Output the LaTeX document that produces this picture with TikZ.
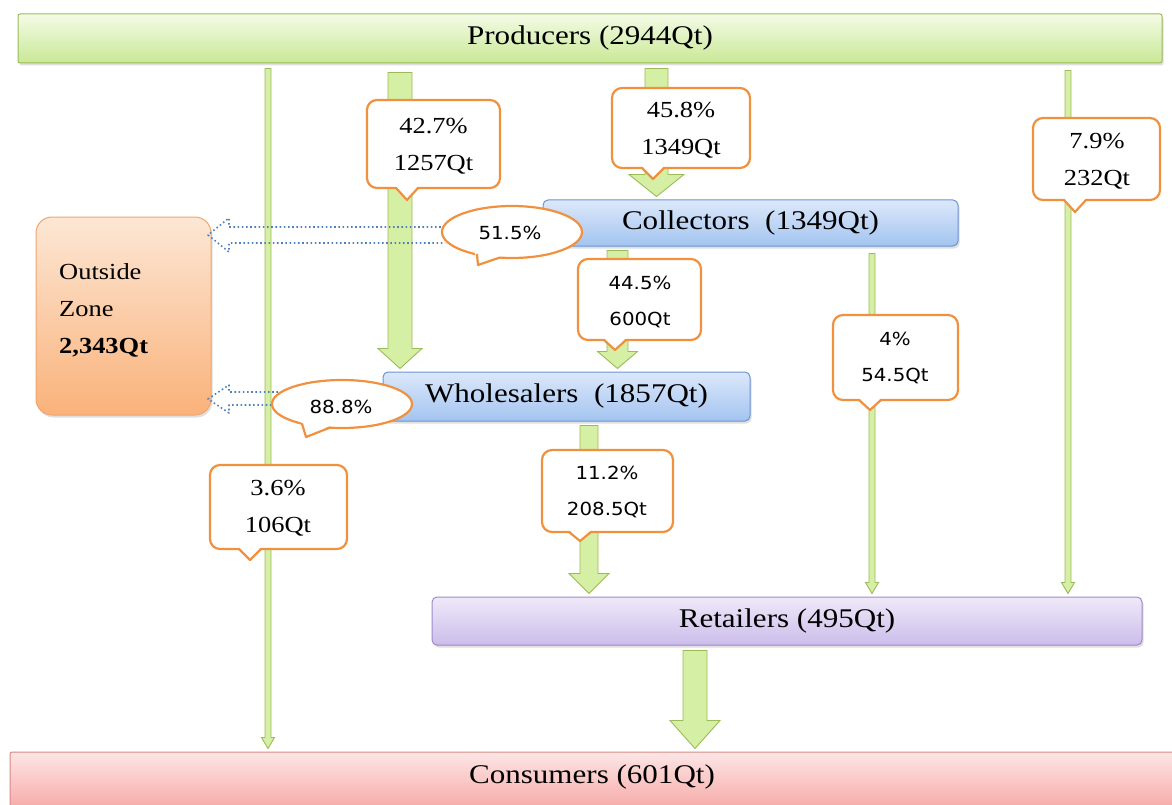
\documentclass[tikz,border=0pt]{standalone}
\usepackage{fontspec}
\setmainfont{Liberation Serif}[FakeStretch=1.15]
\newfontfamily\sansf{DejaVu Sans}[FakeStretch=1.1]
\usetikzlibrary{calc,shadows}
\definecolor{gborder}{HTML}{9BBB59}
\definecolor{gfill}{HTML}{D5EFA5}
\definecolor{oline}{HTML}{F0913F}
\definecolor{dblue}{HTML}{4F81BD}
\definecolor{prodtop}{HTML}{F4FBE6}
\definecolor{prodbot}{HTML}{C9E896}
\definecolor{colltop}{HTML}{DCE8FA}
\definecolor{collbot}{HTML}{A3C4F0}
\definecolor{collline}{HTML}{6A95D3}
\definecolor{rettop}{HTML}{EFE9F9}
\definecolor{retbot}{HTML}{CBBDEA}
\definecolor{retline}{HTML}{9F8AC9}
\definecolor{constop}{HTML}{FDE6E6}
\definecolor{consbot}{HTML}{F6A9A6}
\definecolor{consline}{HTML}{D98B88}
\definecolor{outtop}{HTML}{FCE7D5}
\definecolor{outbot}{HTML}{FAB27A}
\definecolor{outline}{HTML}{F2A56B}
\newcommand\cbox[6]{%
  \draw[callst] (#1,#2) rectangle (#3,#4);
  \fill[white] (#5-11,#4-2) -- (#5+11,#4-2) -- (#5,#6) -- cycle;
  \draw[calledge] (#5-11,#4) -- (#5,#6) -- (#5+11,#4);
}
\begin{document}
\begin{tikzpicture}[x=1pt,y=-1pt,
  box/.style={draw, line width=1pt, rounded corners=5pt, inner sep=0pt,
    font=\fontsize{27}{30}\selectfont,
    drop shadow={opacity=0.25,shadow xshift=1.5pt,shadow yshift=-2.5pt}},
  bigtxt/.style={inner sep=0pt, font=\fontsize{27}{30}\selectfont},
  garrow/.style={draw=gborder, fill=gfill, line width=0.9pt, line join=miter},
  blk/.style n args={4}{to path={let \p1=(\tikztostart), \p2=(\tikztotarget) in
    (\x1-#1/2,\y1-#4) -- (\x1-#1/2,\y2+3pt+#3) -- (\x1-#2/2,\y2+3pt+#3) -- (\x1,\y2+3pt)
    -- (\x1+#2/2,\y2+3pt+#3) -- (\x1+#1/2,\y2+3pt+#3) -- (\x1+#1/2,\y1-#4) -- cycle}},
  callst/.style={draw=oline, fill=white, line width=2.2pt, rounded corners=10pt},
  calledge/.style={draw=oline, line width=2.2pt, line join=round, line cap=round},
  serifc/.style={inner sep=0pt, align=center, font=\fontsize{23}{37}\selectfont},
  sansc/.style={inner sep=0pt, align=center, font=\sansf\fontsize{18}{36}\selectfont},
  dotarr/.style={draw=dblue, line width=1.6pt, dash pattern=on 1.6pt off 2.6pt, line join=round}
]
\useasboundingbox (0,0) rectangle (1172,805);

% boxes
\node[box, rounded corners=2pt, draw=gborder, top color=prodtop, bottom color=prodbot,
  minimum width=1144pt, minimum height=49pt] (prod) at (590,38.5) {Producers (2944Qt)};
\node[box, draw=collline, top color=colltop, bottom color=collbot,
  minimum width=415pt, minimum height=46pt] (coll) at (750.5,223) {Collectors\ \ (1349Qt)};
\node[box, draw=collline, top color=colltop, bottom color=collbot,
  minimum width=367pt, minimum height=49pt] (whole) at (566.5,396.5) {Wholesalers\ \ (1857Qt)};
\node[box, draw=retline, top color=rettop, bottom color=retbot,
  minimum width=710pt, minimum height=48pt] (ret) at (787,621) {Retailers (495Qt)};
\node[box, rounded corners=2pt, draw=consline, top color=constop, bottom color=consbot,
  minimum width=1172pt, minimum height=58pt] (cons) at (596,781) {};
\node[bigtxt] (constxt) at (592,777) {Consumers (601Qt)};
\node[box, rounded corners=16pt, draw=outline, top color=outtop, bottom color=outbot,
  minimum width=175pt, minimum height=198pt] (out) at (123.5,316) {};
\node[inner sep=0pt, anchor=west, align=left, font=\fontsize{23}{37}\selectfont]
  (outtxt) at (59,310) {Outside\\Zone\\\textbf{2,343Qt}};

% green arrows
\draw[garrow, blk={6pt}{13pt}{11pt}{5pt}] (268,0 |- prod.south) to (268,0 |- cons.north);
\draw[garrow, blk={24pt}{44pt}{20pt}{9pt}] (400,0 |- prod.south) to (400,0 |- whole.north);
\draw[garrow, blk={23pt}{55pt}{22pt}{5pt}] (656.5,0 |- prod.south) to (656.5,0 |- coll.north);
\draw[garrow, blk={6pt}{13pt}{11pt}{7pt}] (1068,0 |- prod.south) to (1068,0 |- ret.north);
\draw[garrow, blk={21pt}{40pt}{17pt}{4pt}] (617.5,0 |- coll.south) to (617.5,0 |- whole.north);
\draw[garrow, blk={6pt}{13pt}{11pt}{7pt}] (872,0 |- coll.south) to (872,0 |- ret.north);
\draw[garrow, blk={18pt}{40pt}{20pt}{4pt}] (589,0 |- whole.south) to (589,0 |- ret.north);
\draw[garrow, blk={24pt}{50pt}{28pt}{5pt}] (695,0 |- ret.south) to (695,0 |- cons.north);

% dotted outflow arrows
\draw[dotarr] (445,227) -- (229,227) -- (229,218) -- (208,235) -- (229,252) -- (229,243) -- (445,243);
\draw[dotarr] (278,392) -- (229,392) -- (229,385) -- (208,399) -- (229,413) -- (229,405) -- (278,405);

% ellipse callouts
\draw[callst] (512,232) ellipse [x radius=70pt, y radius=26pt];
\fill[white] (504,255) -- (474,250) -- (478,265) -- cycle;
\draw[calledge] (500,257.5) -- (478,265) -- (477,254.5);
\node[sansc] (e51) at (510,233) {51.5\%};

\draw[callst] (342,404) ellipse [x radius=70pt, y radius=24pt];
\fill[white] (334,424) -- (300,420) -- (306,437) -- cycle;
\draw[calledge] (330,427.6) -- (306,437) -- (302,423.7);
\node[sansc] (e88) at (341,407) {88.8\%};

% rectangular callouts
\cbox{367}{100}{500}{188}{407}{200}
\node[serifc] (c1) at (433.5,146) {42.7\%\\1257Qt};
\cbox{612}{88}{750}{168}{653}{179}
\node[serifc] (c2) at (681,130) {45.8\%\\1349Qt};
\cbox{1033}{118}{1160}{200}{1075}{212}
\node[serifc] (c3) at (1097,161) {7.9\%\\232Qt};
\cbox{578}{259}{701}{340}{615}{350}
\node[sansc] (c4) at (640,302) {44.5\%\\600Qt};
\cbox{833}{315}{958}{400}{870}{410}
\node[sansc] (c5) at (895,358) {4\%\\54.5Qt};
\cbox{210}{465}{347}{549}{250}{560}
\node[serifc] (c6) at (278,508) {3.6\%\\106Qt};
\cbox{542}{450}{673}{532}{580}{541}
\node[sansc] (c7) at (607,492) {11.2\%\\208.5Qt};
\end{tikzpicture}
\end{document}
